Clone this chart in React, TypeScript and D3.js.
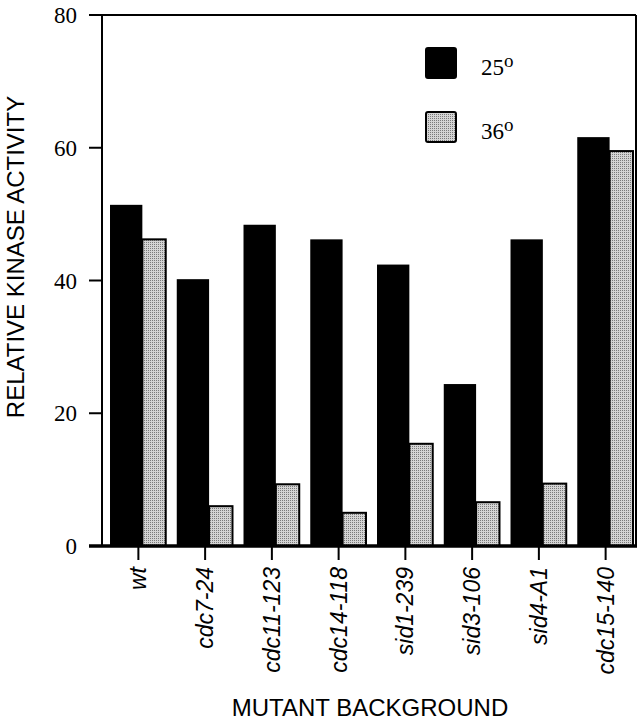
import React from 'react';
import * as d3 from 'd3';

const strains = ['wt', 'cdc7-24', 'cdc11-123', 'cdc14-118', 'sid1-239', 'sid3-106', 'sid4-A1', 'cdc15-140'];
const activity25 = [51.4, 40.2, 48.4, 46.2, 42.4, 24.4, 46.2, 61.6];
const activity36 = [46.2, 6.0, 9.3, 5.0, 15.4, 6.6, 9.4, 59.5];
const yTicks = [0, 20, 40, 60, 80];
const legendItems = ['25', '36'];

const W = 644;
const H = 720;
const margin = { top: 15, right: 8, bottom: 174, left: 102 };

const App = () => {
  const x0 = margin.left;
  const x1 = W - margin.right;
  const yBottom = H - margin.bottom;

  const x = d3.scaleBand().domain(strains).range([x0 + 3, x1 + 3]).paddingInner(0.15).paddingOuter(0.075);
  const y = d3.scaleLinear().domain([0, 80]).range([yBottom, margin.top]);
  const bw = x.bandwidth();
  const blackW = bw * 0.57;
  const greyW = bw - blackW;

  return (
    <svg width={W} height={H} style={{ display: 'block', position: 'absolute', left: 0, top: 0 }}>
      <defs>
        <pattern id="dots" width={2} height={2} patternUnits="userSpaceOnUse">
          <rect width={2} height={2} fill="#d4d4d4" />
          <rect width={1} height={1} fill="#7a7a7a" />
        </pattern>
      </defs>
      <rect width={W} height={H} fill="#fff" />

      {strains.map((s, i) => {
        const bx = x(s) as number;
        return (
          <g key={s}>
            <rect x={bx} y={y(activity25[i])} width={blackW} height={yBottom - y(activity25[i])} fill="#000" />
            <rect
              x={bx + blackW}
              y={y(activity36[i])}
              width={greyW - 1}
              height={yBottom - y(activity36[i])}
              fill="url(#dots)"
              stroke="#000"
              strokeWidth={2}
            />
          </g>
        );
      })}

      {/* frame */}
      <line x1={x0} x2={x0} y1={margin.top} y2={yBottom} stroke="#000" strokeWidth={2} />
      <line x1={x0 - 13} x2={x1} y1={margin.top} y2={margin.top} stroke="#000" strokeWidth={2} />
      <line x1={x1} x2={x1} y1={margin.top} y2={yBottom} stroke="#000" strokeWidth={2} />
      <line x1={x0 - 13} x2={x1 + 1} y1={yBottom} y2={yBottom} stroke="#000" strokeWidth={3.5} />

      {yTicks.map((t) => (
        <g key={t}>
          <line x1={x0 - 13} x2={x0} y1={y(t)} y2={y(t)} stroke="#000" strokeWidth={2} />
          <text
            x={x0 - 25}
            y={y(t)}
            dy="0.35em"
            textAnchor="end"
            fontFamily="'Liberation Serif', 'Times New Roman', serif"
            fontSize={23}
          >
            {t}
          </text>
        </g>
      ))}

      {strains.map((s) => {
        const cx = (x(s) as number) + bw / 2;
        return (
          <g key={s}>
            <line x1={cx} x2={cx} y1={yBottom} y2={yBottom + 14} stroke="#000" strokeWidth={2} />
            <text
              transform={`translate(${cx + 8},${yBottom + 21}) rotate(-90)`}
              textAnchor="end"
              fontFamily="'Liberation Sans', Arial, sans-serif"
              fontStyle="italic"
              fontSize={23}
            >
              {s}
            </text>
          </g>
        );
      })}

      <text
        transform={`translate(24,257) rotate(-90)`}
        textAnchor="middle"
        fontFamily="'Liberation Sans', Arial, sans-serif"
        fontSize={24}
      >
        RELATIVE KINASE ACTIVITY
      </text>
      <text
        x={370}
        y={716}
        textAnchor="middle"
        fontFamily="'Liberation Sans', Arial, sans-serif"
        fontSize={24}
      >
        MUTANT BACKGROUND
      </text>

      {legendItems.map((l, i) => {
        const ly = 48 + i * 64;
        return (
          <g key={l}>
            <rect
              x={426}
              y={ly}
              width={30}
              height={30}
              rx={2}
              fill={i === 0 ? '#000' : 'url(#dots)'}
              stroke="#000"
              strokeWidth={2}
            />
            <text x={481} y={ly + 27} fontFamily="'Liberation Serif', 'Times New Roman', serif" fontSize={23}>
              {l}
              <tspan dy={-8} fontSize={19}>o</tspan>
            </text>
          </g>
        );
      })}
    </svg>
  );
};

export default App;
